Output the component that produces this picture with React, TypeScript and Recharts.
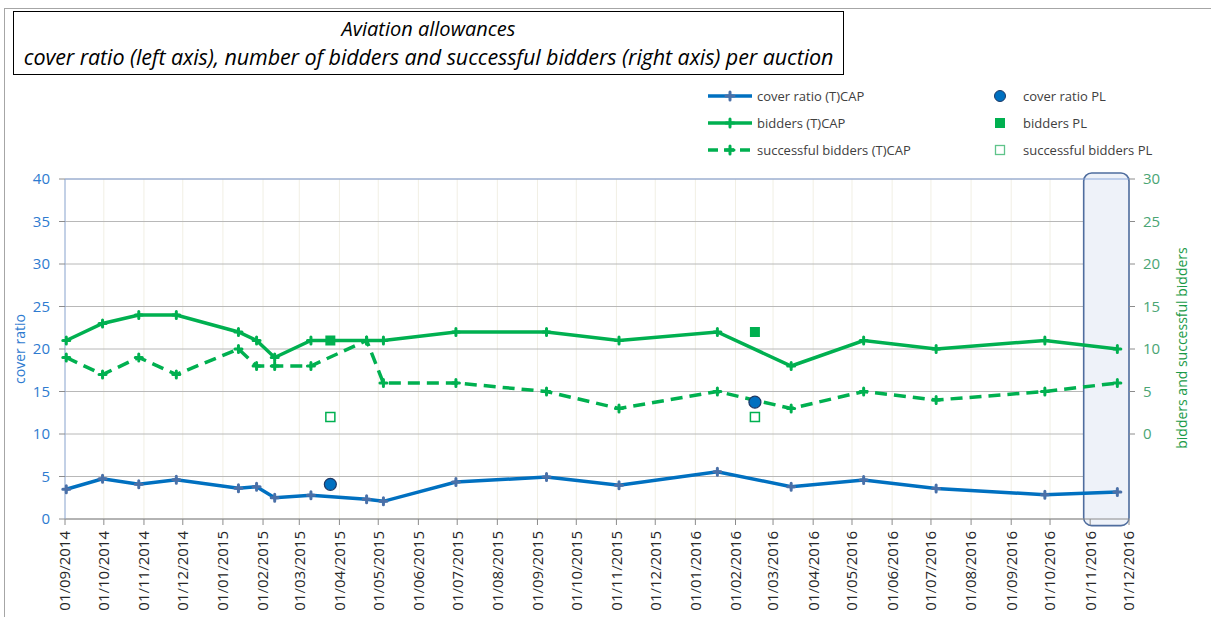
import { LineChart, Line, XAxis, YAxis, CartesianGrid, ReferenceArea, ReferenceLine } from 'recharts';

const FONT = '"Open Sans", "Noto Sans", sans-serif';

// month ticks on the date axis
const monthTicks = [
  '01/09/2014', '01/10/2014', '01/11/2014', '01/12/2014', '01/01/2015', '01/02/2015', '01/03/2015',
  '01/04/2015', '01/05/2015', '01/06/2015', '01/07/2015', '01/08/2015', '01/09/2015', '01/10/2015',
  '01/11/2015', '01/12/2015', '01/01/2016', '01/02/2016', '01/03/2016', '01/04/2016', '01/05/2016',
  '01/06/2016', '01/07/2016', '01/08/2016', '01/09/2016', '01/10/2016', '01/11/2016', '01/12/2016',
];

// (T)CAP auctions
const auctionDates = [
  '02/09/2014', '30/09/2014', '28/10/2014', '26/11/2014', '13/01/2015', '27/01/2015', '10/02/2015',
  '10/03/2015', '22/04/2015', '05/05/2015', '30/06/2015', '08/09/2015', '03/11/2015', '18/01/2016',
  '15/03/2016', '10/05/2016', '05/07/2016', '27/09/2016', '22/11/2016',
];
const coverRatio = [3.5, 4.74, 4.08, 4.62, 3.61, 3.8, 2.5, 2.79, 2.32, 2.08, 4.35, 4.94, 3.96, 5.56, 3.8, 4.59, 3.6, 2.86, 3.18];
const bidders = [11, 13, 14, 14, 12, 11, 9, 11, 11, 11, 12, 12, 11, 12, 8, 11, 10, 11, 10];
const successfulBidders = [9, 7, 9, 7, 10, 8, 8, 8, 11, 6, 6, 5, 3, 5, 3, 5, 4, 5, 6];

// PL auctions
const plDates = ['25/03/2015', '16/02/2016'];
const coverRatioPL = [4.08, 13.75];
const biddersPL = [11, 12];
const successfulBiddersPL = [2, 2];

const leftTicks = [0, 5, 10, 15, 20, 25, 30, 35, 40];
const rightTicks = [0, 5, 10, 15, 20, 25, 30];
const highlight = ['27/10/2016', '01/12/2016'];

const toTime = (s: string) => {
  const [d, m, y] = s.split('/').map(Number);
  return Date.UTC(y, m - 1, d);
};
const fmt = (t: number) => {
  const dt = new Date(t);
  const dd = String(dt.getUTCDate()).padStart(2, '0');
  const mm = String(dt.getUTCMonth() + 1).padStart(2, '0');
  return `${dd}/${mm}/${dt.getUTCFullYear()}`;
};
const series = (dates: string[], values: number[]) => dates.map((d, i) => ({ t: toTime(d), v: values[i] }));

const coverData = series(auctionDates, coverRatio);
const biddersData = series(auctionDates, bidders);
const successData = series(auctionDates, successfulBidders);
const coverPLData = series(plDates, coverRatioPL);
const biddersPLData = series(plDates, biddersPL);
const successPLData = series(plDates, successfulBiddersPL);
const xTicks = monthTicks.map(toTime);

const BLUE = '#0070c0';
const GREEN = '#00b050';

const plus = (color: string, s: number) => (p: any) => (
  <path
    key={`p-${p.index}`}
    d={`M${p.cx - s},${p.cy}H${p.cx + s}M${p.cx},${p.cy - s}V${p.cy + s}`}
    stroke={color}
    strokeWidth={3}
    strokeLinecap="round"
    fill="none"
  />
);
const circle = (p: any) => (
  <circle key={`c-${p.index}`} cx={p.cx} cy={p.cy} r={6} fill={BLUE} stroke="#1f3864" strokeWidth={1.2} />
);
const square = (p: any) => (
  <rect key={`s-${p.index}`} x={p.cx - 5} y={p.cy - 5} width={10} height={10} fill={GREEN} />
);
const hollow = (p: any) => (
  <rect key={`h-${p.index}`} x={p.cx - 4.5} y={p.cy - 4.5} width={9} height={9} fill="#fff" stroke={GREEN} strokeWidth={1.5} />
);

const DateTick = ({ x, y, payload }: any) => (
  <text
    x={x}
    y={y}
    transform={`rotate(-90, ${x}, ${y})`}
    textAnchor="end"
    dy="0.36em"
    fill="#262626"
    fontSize={15}
    fontFamily={FONT}
  >
    {fmt(payload.value)}
  </text>
);

const legendLeft = [
  { label: 'cover ratio (T)CAP', color: BLUE, mark: '#4a70a8', dash: false },
  { label: 'bidders (T)CAP', color: GREEN, mark: GREEN, dash: false },
  { label: 'successful bidders (T)CAP', color: GREEN, mark: GREEN, dash: true },
];
const legendRight = ['cover ratio PL', 'bidders PL', 'successful bidders PL'];

export default function App() {
  return (
    <div style={{ position: 'absolute', left: 0, top: 0, width: 1211, height: 617, overflow: 'hidden', background: '#fff', fontFamily: FONT }}>
      <div style={{ position: 'absolute', left: 4, top: 8, width: 1400, height: 800, borderLeft: '1px solid #a6a6a6', borderTop: '1px solid #a6a6a6' }} />
      <div
        style={{
          position: 'absolute', left: 13, top: 11, width: 829, height: 59, border: '1.5px solid #000',
          fontStyle: 'italic', fontSize: 21.5, lineHeight: '28px', textAlign: 'center', color: '#000', paddingTop: 3,
        }}
      >
        <div style={{ fontSize: 20 }}>Aviation allowances</div>
        <div style={{ whiteSpace: 'nowrap', letterSpacing: -0.1 }}>cover ratio (left axis), number of bidders and successful bidders (right axis) per auction</div>
      </div>

      {legendLeft.map((l, i) => (
        <div key={l.label} style={{ position: 'absolute', left: 707, top: 96 + i * 27 - 10, height: 20, display: 'flex', alignItems: 'center' }}>
          <svg width={46} height={20}>
            <line x1={1} y1={10} x2={45} y2={10} stroke={l.color} strokeWidth={3.5} strokeDasharray={l.dash ? '10 6' : undefined} />
            <path d="M19,10H27M23,6V14" stroke={l.mark} strokeWidth={3} strokeLinecap="round" />
          </svg>
          <span style={{ fontSize: 13, color: '#404040', marginLeft: 4 }}>{l.label}</span>
        </div>
      ))}
      {legendRight.map((l, i) => (
        <div key={l} style={{ position: 'absolute', left: 990, top: 96 + i * 27 - 10, height: 20, display: 'flex', alignItems: 'center' }}>
          <svg width={20} height={20}>
            {i === 0 && <circle cx={10} cy={10} r={5.5} fill={BLUE} stroke="#1f3864" strokeWidth={1} />}
            {i === 1 && <rect x={5} y={5} width={10} height={10} fill={GREEN} />}
            {i === 2 && <rect x={5.5} y={5.5} width={9} height={9} fill="#fff" stroke="#5fc48a" strokeWidth={1.3} />}
          </svg>
          <span style={{ fontSize: 13, color: '#404040', marginLeft: 13 }}>{l}</span>
        </div>
      ))}

      <div style={{ position: 'absolute', left: 0, top: 0 }}>
        <LineChart width={1211} height={617} margin={{ top: 179, right: 0, bottom: 0, left: 0 }}>
          <CartesianGrid yAxisId="left" horizontal={false} stroke="#f1efe4" />
          <CartesianGrid yAxisId="left" vertical={false} stroke="#b8b8b8" />
          <XAxis
            dataKey="t"
            type="number"
            domain={[xTicks[0], xTicks[xTicks.length - 1]]}
            ticks={xTicks}
            interval={0}
            height={98}
            tickSize={6}
            tickMargin={6}
            stroke="#8c8c8c"
            tick={<DateTick />}
          />
          <YAxis
            yAxisId="left"
            domain={[0, 40]}
            ticks={leftTicks}
            width={65}
            tickSize={6}
            tickMargin={9}
            axisLine={{ stroke: '#8eaadb' }}
            tickLine={{ stroke: '#8c8c8c' }}
            tick={{ fill: '#2e7bd0', fontSize: 15, fontFamily: FONT }}
          />
          <YAxis
            yAxisId="right"
            orientation="right"
            domain={[-10, 30]}
            ticks={rightTicks}
            width={82}
            tickSize={6}
            tickMargin={8}
            axisLine={false}
            tickLine={{ stroke: '#8c8c8c' }}
            tick={{ fill: '#4aa574', fontSize: 15, fontFamily: FONT, textAnchor: 'start' }}
          />
          <ReferenceLine yAxisId="left" y={40} stroke="#8eaadb" strokeWidth={1.2} />
          <ReferenceArea
            yAxisId="left"
            x1={toTime(highlight[0])}
            x2={toTime(highlight[1])}
            y1={-0.78}
            y2={40.7}
            ifOverflow="visible"
            shape={(p: any) => (
              <rect x={p.x} y={p.y} width={p.width} height={p.height} rx={8} fill="#eef2f9" stroke="#4f6d9e" strokeWidth={1.6} />
            )}
          />
          <Line yAxisId="left" data={coverData} dataKey="v" stroke={BLUE} strokeWidth={3.5} dot={plus('#4a70a8', 3.5)} activeDot={false} isAnimationActive={false} />
          <Line yAxisId="right" data={biddersData} dataKey="v" stroke={GREEN} strokeWidth={3.5} dot={plus(GREEN, 3.5)} activeDot={false} isAnimationActive={false} />
          <Line yAxisId="right" data={successData} dataKey="v" stroke={GREEN} strokeWidth={3.5} strokeDasharray="12 7" dot={plus(GREEN, 3.5)} activeDot={false} isAnimationActive={false} />
          <Line yAxisId="right" data={biddersPLData} dataKey="v" stroke="none" dot={square} activeDot={false} isAnimationActive={false} />
          <Line yAxisId="right" data={successPLData} dataKey="v" stroke="none" dot={hollow} activeDot={false} isAnimationActive={false} />
          <Line yAxisId="left" data={coverPLData} dataKey="v" stroke="none" dot={circle} activeDot={false} isAnimationActive={false} />
        </LineChart>
      </div>

      <svg style={{ position: 'absolute', left: 0, top: 0, pointerEvents: 'none' }} width={1211} height={617}>
        <text x={20} y={349} transform="rotate(-90, 20, 349)" textAnchor="middle" dy="0.35em" fill="#2e7bd0" fontSize={14} fontFamily={FONT}>
          cover ratio
        </text>
        <text x={1182} y={348} transform="rotate(-90, 1182, 348)" textAnchor="middle" dy="0.35em" fill="#1a9a48" fontSize={14} fontFamily={FONT}>
          bidders and successful bidders
        </text>
      </svg>
    </div>
  );
}
